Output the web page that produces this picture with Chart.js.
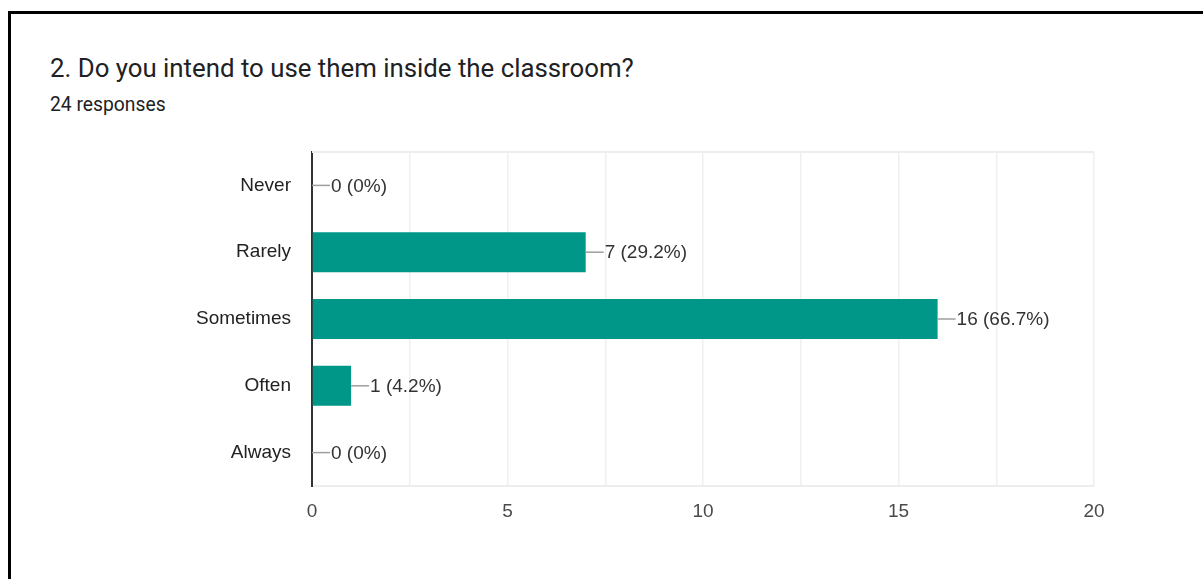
<!DOCTYPE html>
<html>
<head>
<meta charset="utf-8">
<script src="https://cdn.jsdelivr.net/npm/chart.js@4/dist/chart.umd.min.js"></script>
<style>
  html, body { margin: 0; padding: 0; background: #fff; }
  body { width: 1203px; height: 579px; position: relative; overflow: hidden; }
  .frame {
    position: absolute; left: 8px; top: 11px; right: -10px; bottom: -10px;
    border-left: 3px solid #000; border-top: 3px solid #000;
  }
  .q-title {
    position: absolute; left: 50px; top: 53px; margin: 0;
    font: 400 25.8px Roboto, "Noto Sans", sans-serif; color: #202124; white-space: nowrap;
  }
  .q-count {
    position: absolute; left: 50px; top: 93px; margin: 0;
    font: 400 19.3px Roboto, "Noto Sans", sans-serif; color: #202124; white-space: nowrap;
  }
  #chart { position: absolute; left: 0; top: 0; }
</style>
</head>
<body>
<div class="frame"></div>
<h2 class="q-title">2. Do you intend to use them inside the classroom?</h2>
<p class="q-count">24 responses</p>
<canvas id="chart" width="1203" height="579"></canvas>

<script>
const answers  = ['Never', 'Rarely', 'Sometimes', 'Often', 'Always'];
const counts   = [0, 7, 16, 1, 0];
const percents = ['0%', '29.2%', '66.7%', '4.2%', '0%'];
const xTicks   = [0, 5, 10, 15, 20];

const LABEL_FONT = '19px Arial, "Liberation Sans", sans-serif';

// leader line + "n (p%)" label at the end of each bar
const barLabels = {
  id: 'barLabels',
  afterDatasetsDraw(chart) {
    const { ctx } = chart;
    const meta = chart.getDatasetMeta(0);
    ctx.save();
    meta.data.forEach((bar, i) => {
      const x = bar.x, y = bar.y;
      ctx.strokeStyle = '#9e9e9e';
      ctx.lineWidth = 1.5;
      ctx.beginPath();
      ctx.moveTo(x, y);
      ctx.lineTo(x + 18, y);
      ctx.stroke();
      ctx.fillStyle = '#333';
      ctx.font = LABEL_FONT;
      ctx.textBaseline = 'middle';
      ctx.textAlign = 'left';
      ctx.fillText(`${counts[i]} (${percents[i]})`, x + 19, y + 1);
    });
    ctx.restore();
  }
};

// light top edge of the plot frame
const plotFrame = {
  id: 'plotFrame',
  beforeDatasetsDraw(chart) {
    const { ctx, chartArea: a } = chart;
    ctx.save();
    ctx.strokeStyle = '#ededed';
    ctx.lineWidth = 2;
    ctx.beginPath();
    ctx.moveTo(a.left, a.top);
    ctx.lineTo(a.right, a.top);
    ctx.stroke();
    ctx.restore();
  }
};

new Chart(document.getElementById('chart'), {
  type: 'bar',
  data: {
    labels: answers,
    datasets: [{
      data: counts,
      backgroundColor: '#009688',
      borderWidth: 0,
      barPercentage: 0.6,
      categoryPercentage: 1.0
    }]
  },
  options: {
    indexAxis: 'y',
    responsive: false,
    animation: false,
    layout: { padding: { top: 152, right: 109, left: 0, bottom: 0 } },
    plugins: {
      legend: { display: false },
      tooltip: { enabled: false }
    },
    scales: {
      x: {
        min: 0,
        max: 20,
        afterFit(scale) { scale.height = 93; },
        afterBuildTicks(scale) {
          scale.ticks = [];
          for (let v = 0; v <= 20; v += 2.5) scale.ticks.push({ value: v });
        },
        ticks: {
          autoSkip: false,
          maxRotation: 0,
          padding: 14,
          color: '#4a4a4a',
          font: { family: 'Arial, "Liberation Sans", sans-serif', size: 19 },
          callback: v => (xTicks.includes(v) ? String(v) : '')
        },
        grid: {
          drawTicks: false,
          color: ctx => (ctx.tick && ctx.tick.value === 0 ? 'rgba(0,0,0,0)' : '#efefef'),
          lineWidth: 1.5
        },
        border: { display: true, color: '#ededed', width: 2 }
      },
      y: {
        afterFit(scale) { scale.width = 312; },
        ticks: {
          padding: 21,
          color: '#222',
          font: { family: 'Arial, "Liberation Sans", sans-serif', size: 19 }
        },
        grid: { display: false, drawTicks: false },
        border: { display: true, color: '#333', width: 2 }
      }
    }
  },
  plugins: [plotFrame, barLabels]
});
</script>
</body>
</html>
